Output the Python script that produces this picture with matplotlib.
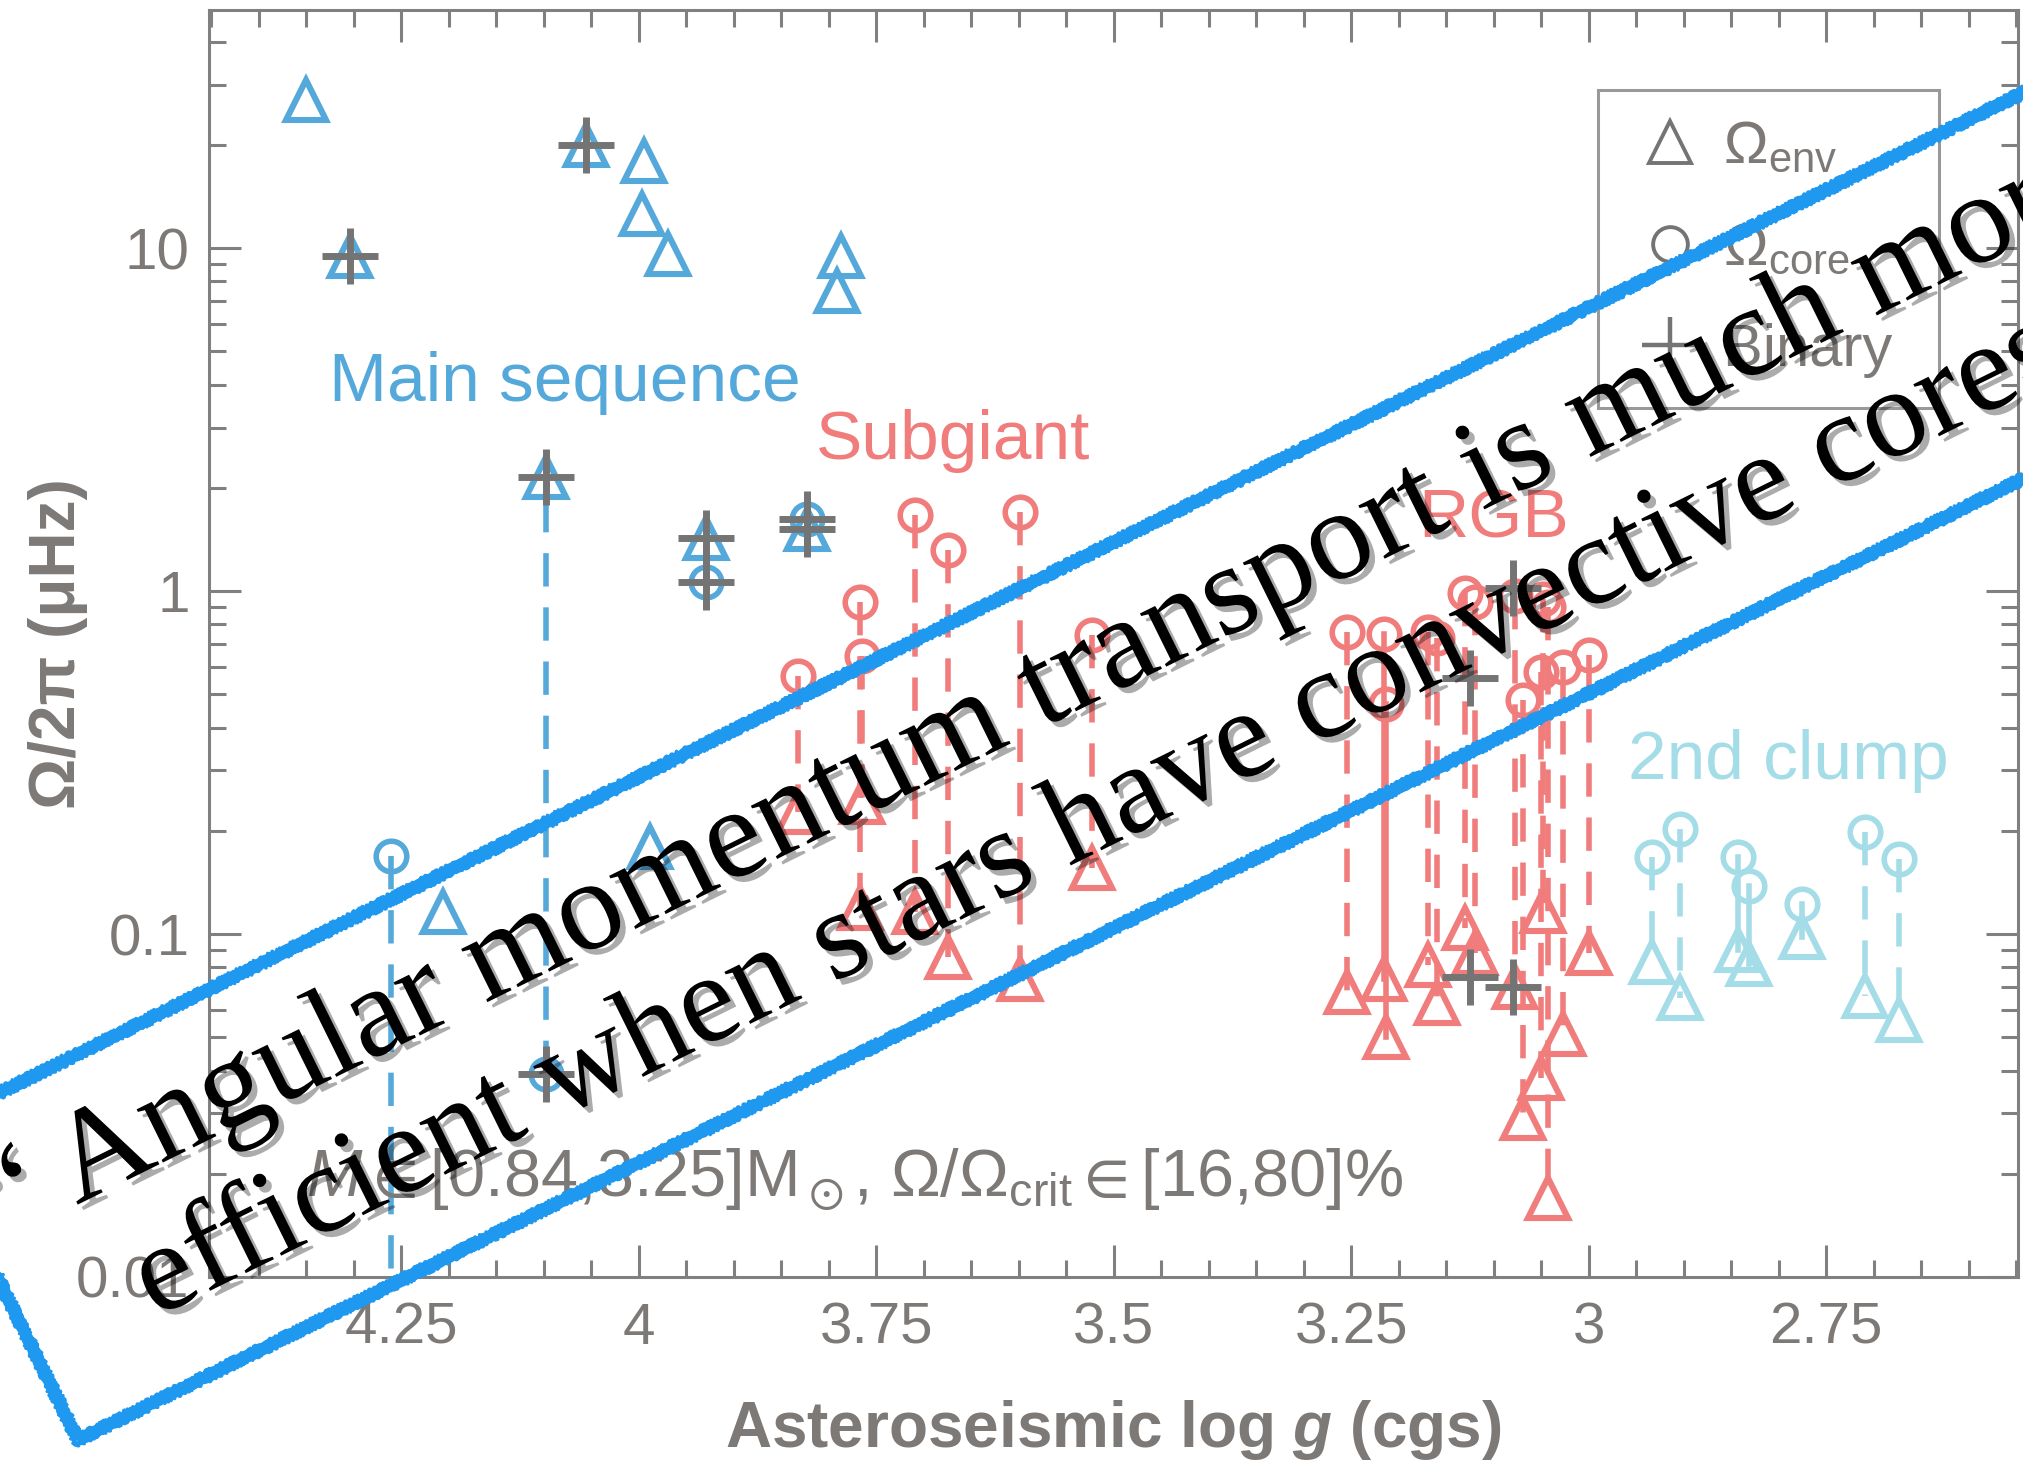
import numpy as np
import matplotlib
matplotlib.use("Agg")
import matplotlib.pyplot as plt
import matplotlib.patheffects as pe
from matplotlib.lines import Line2D
from matplotlib.patches import Polygon
from matplotlib.ticker import MultipleLocator, LogLocator, NullFormatter

plt.rcParams['font.family'] = ['Liberation Sans', 'DejaVu Sans']
plt.rcParams['mathtext.fontset'] = 'custom'
plt.rcParams['mathtext.rm'] = 'Liberation Sans'
plt.rcParams['mathtext.it'] = 'Liberation Sans:italic'
plt.rcParams['mathtext.bf'] = 'Liberation Sans:bold'
plt.rcParams['mathtext.bfit'] = 'Liberation Sans:italic:bold'
plt.rcParams['mathtext.fallback'] = 'stixsans'
plt.rcParams['lines.scale_dashes'] = False

nan = np.nan

# colours
C_MS = '#55a8da'
C_SG = '#f07c7c'
C_CL = '#a4dce7'
C_BIN = '#747474'
C_AX = '#808080'
C_TXT = '#7d7976'

# main sequence (log g, envelope and core rotation in muHz)
ms_logg = [4.351, 4.304, 4.056, 3.995, 3.997, 3.969, 3.787, 3.791, 4.098, 3.929, 3.823, 4.261, 4.206, 3.988]
ms_env = [27.0, 9.5, 20.0, 17.9, 12.6, 9.6, 9.5, 7.5, 2.15, 1.43, 1.52, 0.005, 0.116, 0.18]
ms_core = [nan, nan, nan, nan, nan, nan, nan, nan, 0.039, 1.06, 1.62, 0.169, nan, nan]
ms_ls = ['--'] * 14

# subgiants
sg_logg = [3.832, 3.767, 3.765, 3.709, 3.675, 3.599, 3.523]
sg_core = [0.565, 0.93, 0.646, 1.67, 1.32, 1.70, 0.745]
sg_env = [0.227, 0.119, 0.243, 0.116, 0.086, 0.074, 0.156]
sg_ls = ['--'] * 7

# red giant branch
rgb_logg = [3.254, 3.215, 3.213, 3.169, 3.160, 3.130, 3.120, 3.078, 3.069, 3.050, 3.048, 3.043, 3.027, 3.000]
rgb_core = [0.76, 0.75, 0.47, 0.76, 0.73, 0.99, 0.93, 0.97, 0.48, 0.58, 0.95, 0.90, 0.60, 0.65]
rgb_env = [0.068, 0.074, 0.050, 0.081, 0.063, 0.104, 0.088, 0.070, 0.029, 0.038, 0.117, 0.017, 0.051, 0.088]
rgb_ls = ['--', '-', '-', '--', '--', '--', '--', '--', '--', '--', '--', '--', '--', '--']

# secondary clump
cl_logg = [2.933, 2.904, 2.843, 2.831, 2.775, 2.709, 2.673]
cl_core = [0.168, 0.202, 0.168, 0.138, 0.122, 0.198, 0.166]
cl_env = [0.083, 0.065, 0.090, 0.082, 0.098, 0.066, 0.056]
cl_ls = ['--', '--', '-', '-', '-', '--', '--']

# binaries
bin_logg = [4.304, 4.056, 4.098, 4.098, 3.929, 3.929, 3.823, 3.823, 3.080, 3.080, 3.125, 3.125]
bin_omega = [9.5, 20.0, 2.15, 0.039, 1.43, 1.06, 1.62, 1.52, 1.02, 0.070, 0.557, 0.075]

xticks = [4.25, 4.0, 3.75, 3.5, 3.25, 3.0, 2.75]
xtick_labels = ['4.25', '4', '3.75', '3.5', '3.25', '3', '2.75']
yticks = [0.01, 0.1, 1, 10]
ytick_labels = ['0.01', '0.1', '1', '10']

W, H = 2023, 1465
fig = plt.figure(figsize=(W / 100, H / 100), dpi=100)
ax = fig.add_axes([209 / W, 1 - 1277 / H, (2018 - 209) / W, (1277 - 10) / H])
ax.set_yscale('log')
ax.set_xlim(4.4526, 2.548)
ax.set_ylim(0.01, 49.5)

DASH = (0, (24, 15))
TRI = dict(marker='^', ms=29, mfc='none', mew=4.4, ls='none')
CIRC = dict(marker='o', ms=22, mfc='none', mew=4, ls='none')


def draw_group(logg, core, env, styles, col):
    for g, c, e, s in zip(logg, core, env, styles):
        if np.isnan(c) or np.isnan(e):
            continue
        ax.plot([g, g], [c, e], color=col, lw=4,
                ls=DASH if s == '--' else '-', zorder=2)
    ax.plot(logg, env, mec=col, zorder=3, **TRI)
    ax.plot(logg, core, mec=col, zorder=3, **CIRC)


draw_group(ms_logg, ms_core, ms_env, ms_ls, C_MS)
draw_group(sg_logg, sg_core, sg_env, sg_ls, C_SG)
draw_group(rgb_logg, rgb_core, rgb_env, rgb_ls, C_SG)
draw_group(cl_logg, cl_core, cl_env, cl_ls, C_CL)
ax.plot(bin_logg, bin_omega, ls='none', marker='+', ms=40, mew=5, color=C_BIN, zorder=4)

# group labels
ax.text(4.326, 3.58, 'Main sequence', color=C_MS, fontsize=50, va='baseline')
ax.text(3.814, 2.43, 'Subgiant', color=C_SG, fontsize=50, va='baseline')
ax.text(3.179, 1.43, 'RGB', color=C_SG, fontsize=50, va='baseline')
ax.text(2.959, 0.283, '2nd clump', color=C_CL, fontsize=50, va='baseline')
ax.text(4.351, 0.0172,
        r'$\mathit{M}\in$[0.84,3.25]M$_\odot$, Ω/Ω$_\mathregular{crit}\in$[16,80]%',
        color=C_TXT, fontsize=48, va='baseline')

# axes styling
for sp in ax.spines.values():
    sp.set_color(C_AX)
    sp.set_linewidth(2.2)
ax.set_xticks(xticks, labels=xtick_labels)
ax.xaxis.set_minor_locator(MultipleLocator(0.05))
ax.set_yticks(yticks, labels=ytick_labels)
ax.yaxis.set_minor_locator(LogLocator(base=10, subs=np.arange(2, 10)))
ax.yaxis.set_minor_formatter(NullFormatter())
ax.tick_params(which='both', direction='in', top=True, right=True,
               color=C_AX, width=2.2, labelcolor=C_TXT, labelsize=42)
ax.tick_params(which='major', length=23)
ax.tick_params(which='minor', length=12)
ax.tick_params(axis='x', pad=18)
ax.tick_params(axis='y', pad=14)

ax.set_xlabel(r'Asteroseismic log $\mathbfit{g}$ (cgs)', fontsize=46, fontweight='bold', color=C_TXT)
ax.xaxis.label.set_va('baseline')
ax.xaxis.set_label_coords(0.5, -(1447 - 1277) / 1267)
ax.set_ylabel('\u03a9/2\u03c0 (\u03bcHz)', fontsize=46, fontweight='bold', color=C_TXT)
ax.yaxis.label.set_va('center')
ax.yaxis.set_label_coords(-(209 - 58) / 1809, 0.5)

handles = [
    Line2D([], [], marker='^', ms=30, mfc='none', mec=C_BIN, mew=2.8, ls='none'),
    Line2D([], [], marker='o', ms=25, mfc='none', mec=C_BIN, mew=2.8, ls='none'),
    Line2D([], [], marker='+', ms=40, color=C_BIN, mew=3.2, ls='none'),
]
leg = ax.legend(handles, [r'Ω$_\mathregular{env}$', r'Ω$_\mathregular{core}$', 'Binary\u00a0'],
                loc='upper right', bbox_to_anchor=(1939 / W, 1 - 90 / H),
                bbox_transform=fig.transFigure, fontsize=43, labelcolor=C_TXT,
                fancybox=False, edgecolor=C_AX, borderpad=0.5, labelspacing=0.78,
                handlelength=1.4, handletextpad=0.2, borderaxespad=0)
leg.get_frame().set_linewidth(2.2)
leg.set_zorder(5)

# quote overlay: rotated box with a rough blue outline
ang_deg = 26.3
ang = np.deg2rad(ang_deg)
u = np.array([np.cos(ang), np.sin(ang)])
n = np.array([-np.sin(ang), np.cos(ang)])
ll = np.array([78.0, H - 1440.0])
box_len, box_h = 2700, 346


def box_corners(d):
    p0 = ll - (u + n) * d
    L, Hh = box_len + 2 * d, box_h + 2 * d
    return np.array([p0, p0 + u * L, p0 + u * L + n * Hh, p0 + n * Hh]) / [W, H]


for d, lw, sk in [(0, 7.5, (1.5, 6, 3)), (4, 2.5, (2.2, 5, 4)), (-4, 2.5, (2.2, 5, 4))]:
    poly = Polygon(box_corners(d), closed=True, fill=False, ec='#1f98f0', lw=lw,
                   transform=fig.transFigure, zorder=10, joinstyle='round')
    poly.set_sketch_params(*sk)
    fig.add_artist(poly)

shadow = [pe.withSimplePatchShadow(offset=(4, -4), shadow_rgbFace='k', alpha=0.33)]
fs1, fs2 = 93, 91
line1 = np.array([83.0, H - 1202.0]) - u * 0.694 * fs1 * 100 / 72
line2 = np.array([155.0, H - 1318.0])
for pos, fs, txt in [(line1, fs1, '\u201c Angular momentum transport is much more'),
                     (line2, fs2, 'efficient when stars have convective cores.')]:
    fig.text(pos[0] / W, pos[1] / H, txt, fontsize=fs, family='Liberation Serif',
             rotation=ang_deg, rotation_mode='anchor', ha='left', va='baseline',
             color='k', path_effects=shadow, zorder=11)

fig.savefig('out.png', dpi=100)
